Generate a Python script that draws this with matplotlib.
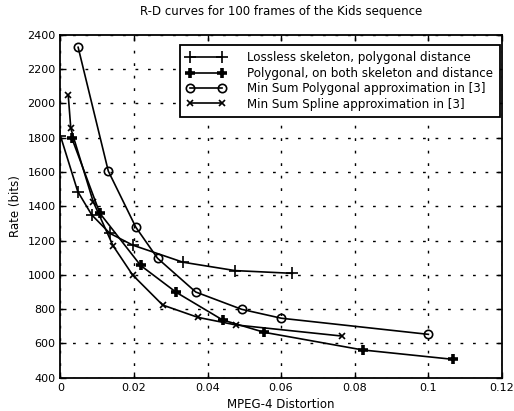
import matplotlib
matplotlib.use("Agg")
from matplotlib import pyplot as plt

# R-D curves
lossless_x = [0.0, 0.0047, 0.0085, 0.0134, 0.0196, 0.0333, 0.0475, 0.0631]
lossless_y = [1810, 1486, 1350, 1243, 1174, 1074, 1025, 1009]

polyboth_x = [0.0031, 0.0107, 0.0218, 0.0315, 0.0441, 0.0554, 0.0822, 0.1069]
polyboth_y = [1797, 1360, 1055, 898, 737, 665, 562, 507]

minsum_poly_x = [0.0048, 0.0130, 0.0205, 0.0264, 0.0368, 0.0493, 0.0601, 0.1001]
minsum_poly_y = [2328, 1606, 1278, 1097, 900, 799, 747, 653]

minsum_spline_x = [0.0021, 0.0028, 0.0089, 0.0143, 0.0196, 0.0278, 0.0374, 0.0477, 0.0766]
minsum_spline_y = [2050, 1855, 1427, 1170, 1000, 824, 752, 708, 643]

labels = ["Lossless skeleton, polygonal distance",
          "Polygonal, on both skeleton and distance",
          "Min Sum Polygonal approximation in [3]",
          "Min Sum Spline approximation in [3]"]

plt.rcParams['font.family'] = ['DejaVu Sans']
plt.rcParams['font.size'] = 8

fig = plt.figure(figsize=(5.14, 4.11), dpi=100)
ax = fig.add_axes([0.1177, 0.081, 0.858, 0.834])

kw = dict(color='black', lw=1.2)
ax.plot(lossless_x, lossless_y, marker='+', ms=8, mew=1.2, label=labels[0], **kw)
ax.plot(polyboth_x, polyboth_y, marker='+', ms=7, mew=2.6, label=labels[1], **kw)
ax.plot(minsum_poly_x, minsum_poly_y, marker='o', ms=6, mew=1.2, mfc='none',
        label=labels[2], **kw)
ax.plot(minsum_spline_x, minsum_spline_y, marker='x', ms=4.5, mew=1.2,
        label=labels[3], **kw)

ax.set_xlim(0, 0.12)
ax.set_ylim(400, 2400)
ax.set_xticks([0, 0.02, 0.04, 0.06, 0.08, 0.1, 0.12])
ax.set_xticklabels(['0', '0.02', '0.04', '0.06', '0.08', '0.1', '0.12'])
ax.set_yticks(range(400, 2401, 200))
ax.grid(True, color='black', linestyle=(0, (2, 7)), lw=1.0)
ax.tick_params(direction='in', top=True, right=True, length=4, width=1, labelsize=8)
for s in ax.spines.values():
    s.set_linewidth(1.3)

ax.set_title("R-D curves for 100 frames of the Kids sequence", fontsize=8.5, pad=14)
ax.set_xlabel("MPEG-4 Distortion", fontsize=8.5)
ax.set_ylabel("Rate (bits)", fontsize=8.5)

leg = ax.legend(loc='upper right', bbox_to_anchor=(0.996, 0.971), borderaxespad=0,
                numpoints=2, fontsize=8.6, frameon=True, fancybox=False,
                framealpha=1, edgecolor='black', handlelength=3.3,
                handletextpad=1.8, labelspacing=0.2, borderpad=0.55)
leg.get_frame().set_linewidth(1.3)

fig.savefig("out.png", dpi=100)
